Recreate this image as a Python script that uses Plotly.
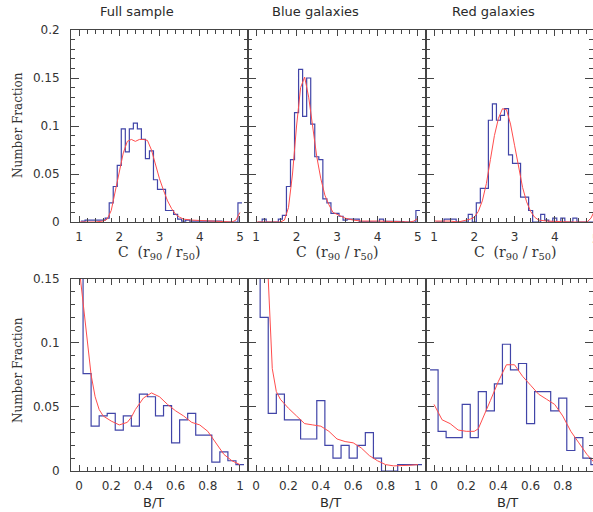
import plotly.graph_objects as go

# concentration C = r90/r50, histogram bin centres (width 0.1)
c_bins = [1.1, 1.2, 1.3, 1.4, 1.5, 1.6, 1.7, 1.8, 1.9, 2.0,
          2.1, 2.2, 2.3, 2.4, 2.5, 2.6, 2.7, 2.8, 2.9, 3.0,
          3.1, 3.2, 3.3, 3.4, 3.5, 3.6, 3.7, 3.8, 3.9, 4.0,
          4.1, 4.2, 4.3, 4.4, 4.5, 4.6, 4.7, 4.8, 4.9, 5.0]

full_c_hist = [0.001, 0.002, 0.002, 0.002, 0.002, 0.002, 0.004, 0.020, 0.037, 0.059,
               0.097, 0.073, 0.097, 0.103, 0.097, 0.086, 0.066, 0.074, 0.044, 0.034,
               0.034, 0.012, 0.012, 0.008, 0.003, 0.001, 0.002, 0.001, 0.0005, 0.001,
               0.001, 0.001, 0.0005, 0.0005, 0.001, 0.0, 0.0, 0.0, 0.0, 0.020]
blue_c_hist = [0.0, 0.003, 0.0, 0.0, 0.0, 0.003, 0.007, 0.037, 0.065, 0.114,
               0.159, 0.110, 0.150, 0.102, 0.068, 0.065, 0.024, 0.020, 0.009, 0.009,
               0.006, 0.002, 0.003, 0.003, 0.003, 0.0005, 0.0, 0.0, 0.0, 0.0,
               0.003, 0.001, 0.001, 0.001, 0.001, 0.0005, 0.0, 0.0, 0.0, 0.012]
red_c_hist = [0.0, 0.0, 0.003, 0.003, 0.003, 0.0, 0.0, 0.0, 0.008, 0.0,
              0.020, 0.035, 0.035, 0.106, 0.123, 0.106, 0.111, 0.118, 0.070, 0.061,
              0.061, 0.026, 0.026, 0.012, 0.0, 0.0, 0.008, 0.002, 0.0, 0.004,
              0.0, 0.004, 0.0, 0.0, 0.004, 0.0, 0.0, 0.0, 0.0, 0.0]

# smoothed C distributions
full_c_fit_x = [1.0, 1.2, 1.4, 1.6, 1.7, 1.8, 1.9, 2.0, 2.1, 2.2, 2.3, 2.4, 2.5, 2.6,
                2.7, 2.8, 2.9, 3.0, 3.1, 3.2, 3.3, 3.4, 3.5, 3.6, 3.8, 4.0, 4.2, 4.4,
                4.6, 4.8, 4.9, 5.0]
full_c_fit_y = [0.0, 0.0, 0.0, 0.001, 0.003, 0.012, 0.032, 0.053, 0.072, 0.084, 0.086,
                0.084, 0.086, 0.086, 0.085, 0.075, 0.060, 0.045, 0.033, 0.022, 0.014,
                0.008, 0.005, 0.003, 0.002, 0.0015, 0.001, 0.0005, 0.0, 0.0, 0.002, 0.010]
blue_c_fit_x = [1.0, 1.4, 1.6, 1.7, 1.8, 1.9, 2.0, 2.1, 2.2, 2.3, 2.4, 2.5, 2.6, 2.7,
                2.8, 2.9, 3.0, 3.1, 3.2, 3.4, 3.6, 4.0, 4.5, 4.8, 4.9, 5.0]
blue_c_fit_y = [0.0, 0.0, 0.0, 0.002, 0.015, 0.050, 0.100, 0.140, 0.151, 0.130, 0.100,
                0.068, 0.045, 0.028, 0.018, 0.010, 0.008, 0.006, 0.004, 0.002, 0.001,
                0.001, 0.0005, 0.0, 0.001, 0.004]
red_c_fit_x = [1.0, 1.4, 1.6, 1.8, 1.9, 2.0, 2.1, 2.2, 2.3, 2.4, 2.5, 2.6, 2.7, 2.8,
               2.9, 3.0, 3.1, 3.2, 3.3, 3.4, 3.5, 3.6, 3.8, 4.0, 4.4, 4.8, 4.9, 5.0]
red_c_fit_y = [0.001, 0.001, 0.0, 0.002, 0.003, 0.005, 0.011, 0.022, 0.040, 0.065,
               0.090, 0.108, 0.118, 0.117, 0.102, 0.080, 0.057, 0.036, 0.021, 0.011,
               0.005, 0.002, 0.001, 0.0005, 0.0, 0.0, 0.004, 0.013]

# bulge-to-total ratio, histogram bin centres (width 0.05)
bt_bins = [0.0, 0.05, 0.1, 0.15, 0.2, 0.25, 0.3, 0.35, 0.4, 0.45, 0.5,
           0.55, 0.6, 0.65, 0.7, 0.75, 0.8, 0.85, 0.9, 0.95, 1.0]

full_bt_hist = [0.200, 0.076, 0.035, 0.043, 0.045, 0.032, 0.043, 0.035, 0.060, 0.058, 0.043,
                0.051, 0.022, 0.040, 0.045, 0.028, 0.028, 0.007, 0.015, 0.008, 0.005]
blue_bt_hist = [0.300, 0.120, 0.045, 0.060, 0.040, 0.040, 0.025, 0.025, 0.055, 0.020, 0.010,
                0.020, 0.010, 0.020, 0.030, 0.010, 0.0, 0.0, 0.005, 0.005, 0.005]
red_bt_hist = [0.079, 0.031, 0.026, 0.026, 0.052, 0.026, 0.062, 0.047, 0.068, 0.099, 0.079,
               0.084, 0.037, 0.062, 0.062, 0.047, 0.057, 0.016, 0.026, 0.010, 0.005]

full_bt_fit_x = [0.0, 0.025, 0.05, 0.075, 0.1, 0.125, 0.15, 0.2, 0.25, 0.3, 0.325, 0.35,
                 0.4, 0.45, 0.5, 0.55, 0.6, 0.65, 0.7, 0.75, 0.8, 0.85, 0.9, 0.95, 1.0]
full_bt_fit_y = [0.160, 0.130, 0.100, 0.075, 0.058, 0.048, 0.043, 0.039, 0.036, 0.038,
                 0.042, 0.048, 0.057, 0.061, 0.058, 0.052, 0.047, 0.043, 0.038, 0.036,
                 0.031, 0.022, 0.013, 0.008, 0.005]
blue_bt_fit_x = [0.0, 0.05, 0.1, 0.125, 0.15, 0.2, 0.25, 0.3, 0.35, 0.4, 0.45, 0.5,
                 0.55, 0.6, 0.65, 0.7, 0.75, 0.8, 0.85, 0.9, 0.95, 1.0]
blue_bt_fit_y = [0.300, 0.220, 0.080, 0.062, 0.056, 0.049, 0.043, 0.037, 0.036, 0.035,
                 0.031, 0.025, 0.023, 0.022, 0.018, 0.012, 0.008, 0.005, 0.004, 0.004,
                 0.0045, 0.005]
red_bt_fit_x = [0.0, 0.05, 0.1, 0.15, 0.2, 0.25, 0.275, 0.3, 0.35, 0.4, 0.45, 0.5,
                0.55, 0.6, 0.65, 0.7, 0.75, 0.8, 0.85, 0.9, 0.95, 1.0]
red_bt_fit_y = [0.052, 0.040, 0.037, 0.032, 0.031, 0.031, 0.033, 0.040, 0.055, 0.070,
                0.083, 0.083, 0.074, 0.067, 0.060, 0.056, 0.052, 0.043, 0.031, 0.022,
                0.013, 0.006]

titles = ["Full sample", "Blue galaxies", "Red galaxies"]

BLUE = "#4145a8"
RED = "#ff4d4d"
FRAME = "#454545"


def steps(centres, values, width):
    xs, ys = [], []
    for c, v in zip(centres, values):
        xs += [c - width / 2, c + width / 2]
        ys += [v, v]
    return xs, ys


fig = go.Figure()

panels = [
    (c_bins, full_c_hist, 0.1, full_c_fit_x, full_c_fit_y),
    (c_bins, blue_c_hist, 0.1, blue_c_fit_x, blue_c_fit_y),
    (c_bins, red_c_hist, 0.1, red_c_fit_x, red_c_fit_y),
    (bt_bins, full_bt_hist, 0.05, full_bt_fit_x, full_bt_fit_y),
    (bt_bins, blue_bt_hist, 0.05, blue_bt_fit_x, blue_bt_fit_y),
    (bt_bins, red_bt_hist, 0.05, red_bt_fit_x, red_bt_fit_y),
]

for i, (bins, hist, w, fx, fy) in enumerate(panels):
    n = "" if i == 0 else str(i + 1)
    hx, hy = steps(bins, hist, w)
    fig.add_trace(go.Scatter(x=hx, y=hy, mode="lines", xaxis="x" + n, yaxis="y" + n,
                             line=dict(color=BLUE, width=1.2), showlegend=False))
    fig.add_trace(go.Scatter(x=fx, y=fy, mode="lines", xaxis="x" + n, yaxis="y" + n,
                             line=dict(color=RED, width=1), showlegend=False))

# panel edges in paper coords (plot area is 522 x 441 px)
xdom = [[0, 0.3391], [0.3391, 0.6801], [0.6801, 1.0]]
ydom_top = [0.5646, 1.0]
ydom_bot = [0.0, 0.4354]

tick_font = dict(family="DejaVu Sans", size=12, color="#333333")
common = dict(showline=True, mirror="allticks", linecolor=FRAME, linewidth=1,
              ticks="inside", tickcolor=FRAME, showgrid=False, zeroline=False,
              tickfont=tick_font, automargin=False)

layout = {}
for i in range(6):
    key = "" if i == 0 else str(i + 1)
    col = i % 3
    top = i < 3
    if top:
        xr = [0.8, 5.2] if col < 2 else [0.8, 4.95]
        xa = dict(range=xr, tickvals=[1, 2, 3, 4, 5], ticklen=6,
                  minor=dict(dtick=0.2, tick0=1, ticklen=4, ticks="inside", tickcolor=FRAME))
        ya = dict(range=[0, 0.2], dtick=0.05, ticklen=8,
                  minor=dict(dtick=0.01, ticklen=4, ticks="inside", tickcolor=FRAME))
    else:
        xr = [-0.05, 1.05] if col < 2 else [-0.05, 0.988]
        xa = dict(range=xr, dtick=0.2, tick0=0, ticklen=6,
                  minor=dict(dtick=0.05, tick0=0, ticklen=4, ticks="inside", tickcolor=FRAME))
        ya = dict(range=[0, 0.15], dtick=0.05, ticklen=8,
                  minor=dict(dtick=0.01, ticklen=4, ticks="inside", tickcolor=FRAME))
    xa.update(common, domain=xdom[col], anchor="y" + key, ticklabelstandoff=4)
    ya.update(common, domain=ydom_top if top else ydom_bot, anchor="x" + key,
              showticklabels=(col == 0), ticklabelstandoff=8)
    layout["xaxis" + key] = xa
    layout["yaxis" + key] = ya


def label(text, px_x, px_y, font, angle=0):
    # place a text by its centre, given in figure pixels
    return dict(text=text, xref="paper", yref="paper",
                x=(px_x - 71) / 522, y=(471 - px_y) / 441,
                xanchor="center", yanchor="middle", textangle=angle,
                showarrow=False, font=font)


serif = dict(family="DejaVu Serif", size=12, color="#333333")
c_font = dict(family="DejaVu Serif", size=14, color="#333333")
sans = dict(family="DejaVu Sans", size=13, color="#2a2a2a")

annotations = []
for t, px_ in zip(titles, [137, 315, 493]):
    annotations.append(label(t, px_, 12, sans))
for px_ in [159, 337, 515]:
    annotations.append(label("C  (r<sub>90</sub> / r<sub>50</sub>)", px_, 253, c_font))
for px_ in [153, 330, 507]:
    annotations.append(label("B/T", px_, 503, sans))
for py in [125, 370]:
    annotations.append(label("Number Fraction", 18, py, serif, angle=-90))
# the "5" of the right-hand panel, cut by the edge of the figure
annotations.append(label("5", 596, 239, tick_font))

fig.update_layout(
    width=593, height=512,
    margin=dict(l=71, r=0, t=30, b=41, autoexpand=False),
    paper_bgcolor="white", plot_bgcolor="white",
    annotations=annotations,
    **layout,
)

# page body margin would shift the figure; drop it
fig.write_html("out.html", config={"displayModeBar": False},
               post_script="document.body.style.margin='0';"
                           "document.body.style.overflow='hidden';")
